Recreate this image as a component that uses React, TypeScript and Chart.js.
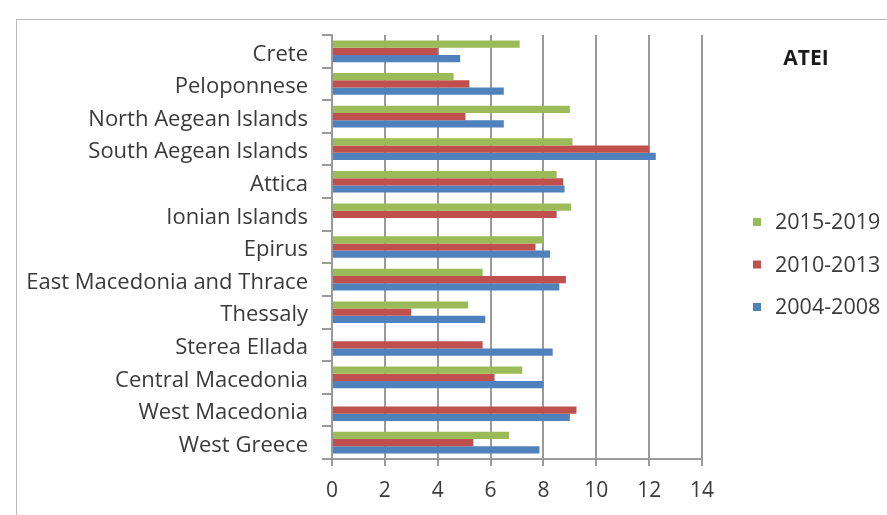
import React, { useEffect, useRef } from 'react';
import { Chart, registerables } from 'chart.js';

Chart.register(...registerables);

const categories = [
  'Crete',
  'Peloponnese',
  'North Aegean Islands',
  'South Aegean Islands',
  'Attica',
  'Ionian Islands',
  'Epirus',
  'East Macedonia and Thrace',
  'Thessaly',
  'Sterea Ellada',
  'Central Macedonia',
  'West Macedonia',
  'West Greece',
];

const seriesNames = ['2015-2019', '2010-2013', '2004-2008'];
const values2015 = [7.1, 4.6, 9.0, 9.1, 8.5, 9.05, 8.0, 5.7, 5.15, null, 7.2, null, 6.7];
const values2010 = [4.0, 5.2, 5.05, 12.0, 8.75, 8.5, 7.7, 8.85, 3.0, 5.7, 6.15, 9.25, 5.35];
const values2004 = [4.85, 6.5, 6.5, 12.25, 8.8, null, 8.25, 8.6, 5.8, 8.35, 8.0, 9.0, 7.85];
const seriesColors = ['#9BBB59', '#C0504D', '#4F81BD'];
const xMin = 0;
const xMax = 14;
const xStep = 2;
const chartTitle = 'ATEI';

const FONT = "'Open Sans', sans-serif";
const TEXT = '#3a3a3a';
const GRID = '#9a9a9a';

const overlay = {
  id: 'overlay',
  afterDraw(chart: any) {
    const ctx = chart.ctx;
    ctx.save();
    // outer frame
    ctx.strokeStyle = '#b9b9b9';
    ctx.lineWidth = 1;
    ctx.strokeRect(16.5, 19.5, 1000, 1000);
    // title
    ctx.fillStyle = '#1a1a1a';
    ctx.font = `bold 21px ${FONT}`;
    ctx.textAlign = 'center';
    ctx.textBaseline = 'middle';
    ctx.fillText(chartTitle, 806, 59);
    // legend
    ctx.textAlign = 'left';
    ctx.font = `21.5px ${FONT}`;
    chart.data.datasets.forEach((ds: any, i: number) => {
      const cy = 222 + i * 42.5;
      ctx.fillStyle = ds.backgroundColor;
      ctx.fillRect(753, cy - 4, 8, 8);
      ctx.fillStyle = TEXT;
      ctx.fillText(ds.label, 775, cy + 1);
    });
    ctx.restore();
  },
};

export default function App() {
  const ref = useRef<HTMLCanvasElement>(null);
  useEffect(() => {
    if (!ref.current) return;
    const chart = new Chart(ref.current, {
      type: 'bar',
      data: {
        labels: categories,
        datasets: [values2015, values2010, values2004].map((d, i) => ({
          label: seriesNames[i],
          data: d,
          backgroundColor: seriesColors[i],
          borderWidth: 0,
          categoryPercentage: 0.665,
          barPercentage: 1,
        })),
      },
      options: {
        indexAxis: 'y',
        animation: false,
        responsive: false,
        layout: { padding: { top: 35, right: 185, left: 0, bottom: 0 } },
        plugins: { legend: { display: false }, title: { display: false }, tooltip: { enabled: false } },
        scales: {
          x: {
            min: xMin,
            max: xMax,
            ticks: { stepSize: xStep, color: TEXT, font: { family: FONT, size: 21 }, padding: 12 },
            grid: { color: GRID, lineWidth: 2, tickLength: 7, drawTicks: true },
            border: { display: true, color: GRID, width: 2 },
            afterFit: (s: any) => { s.height = 56; },
          },
          y: {
            ticks: { color: TEXT, font: { family: FONT, size: 22 }, padding: 14, autoSkip: false, labelOffset: 3 },
            grid: { offset: true, drawOnChartArea: false, drawTicks: true, tickLength: 10, color: GRID, lineWidth: 2 },
            border: { display: true, color: GRID, width: 2 },
            afterFit: (s: any) => { s.width = 332; },
          },
        },
      } as any,
      plugins: [overlay],
    });
    return () => chart.destroy();
  }, []);
  return (
    <div style={{ position: 'absolute', left: 0, top: 0, width: 887, height: 515, background: '#fff' }}>
      <canvas ref={ref} width={887} height={515} />
    </div>
  );
}
